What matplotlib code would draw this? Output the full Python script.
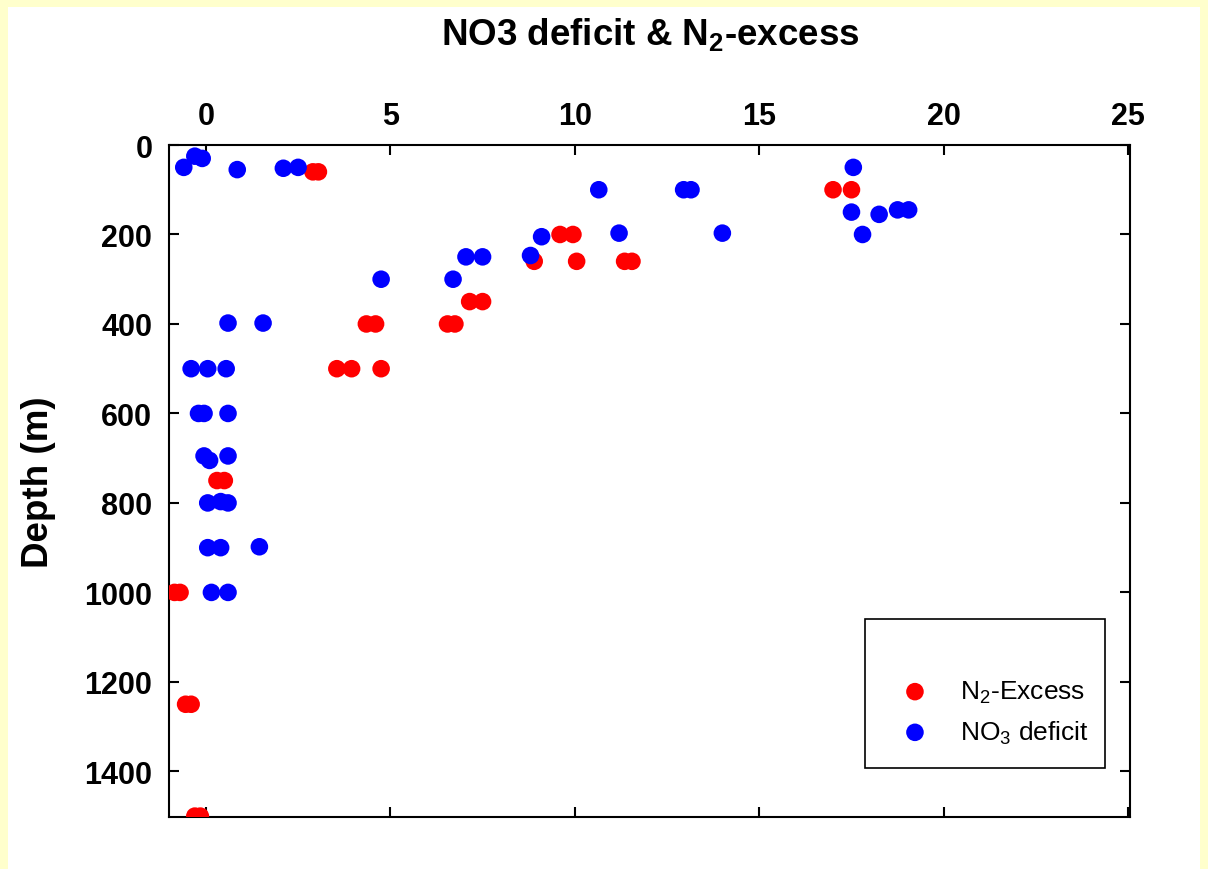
import matplotlib
matplotlib.use("Agg")
import matplotlib.pyplot as plt
from matplotlib.patches import Rectangle

plt.rcParams['font.family'] = ['Liberation Sans', 'DejaVu Sans']
plt.rcParams['mathtext.fontset'] = 'custom'
plt.rcParams['mathtext.rm'] = 'Liberation Sans'
plt.rcParams['mathtext.bf'] = 'Liberation Sans:bold'

# N2 excess (x) versus depth in metres
n2_excess = [2.9, 3.05, 17.0, 17.5, 9.6, 9.95, 8.9, 10.05, 11.35, 11.55,
             7.15, 7.5, 4.35, 4.6, 6.55, 6.75, 3.55, 3.95, 4.75,
             0.3, 0.5, -0.85, -0.7, -0.55, -0.4, -0.3, -0.15]
n2_depth = [60, 60, 100, 100, 200, 200, 260, 260, 260, 260,
            350, 350, 400, 400, 400, 400, 500, 500, 500,
            750, 750, 1000, 1000, 1250, 1250, 1500, 1500]

# NO3 deficit (x) versus depth in metres
no3_deficit = [-0.6, -0.3, -0.1, 0.85, 2.1, 2.5, 17.55,
               10.65, 12.95, 13.15, 17.5, 18.25, 18.75, 19.05,
               17.8, 9.1, 11.2, 14.0, 7.05, 7.5, 8.8, 4.75, 6.7,
               0.6, 1.55, -0.4, 0.05, 0.55, -0.2, -0.05, 0.6,
               -0.05, 0.1, 0.6, 0.05, 0.4, 0.6, 0.05, 0.4, 1.45,
               0.15, 0.6]
no3_depth = [50, 25, 30, 55, 52, 50, 50,
             100, 100, 100, 150, 155, 145, 145,
             200, 205, 197, 197, 250, 250, 247, 300, 300,
             398, 398, 500, 500, 500, 600, 600, 600,
             695, 705, 695, 800, 797, 800, 900, 900, 898,
             1000, 1000]

x_ticks = [0, 5, 10, 15, 20, 25]
y_ticks = [0, 200, 400, 600, 800, 1000, 1200, 1400]

fig = plt.figure(figsize=(12.08, 8.70), dpi=100, facecolor='#ffffcc')
# white panel inside the pale yellow frame
fig.patches.append(Rectangle((8 / 1208, 0), 1192 / 1208, 862 / 870,
                             transform=fig.transFigure, facecolor='white',
                             edgecolor='none', zorder=-10))

ax = fig.add_axes([169 / 1208, 1 - 818 / 870, 961 / 1208, 672 / 870])
ax.set_facecolor('white')

ax.scatter(n2_excess, n2_depth, s=160, color='#ff0000', edgecolors='none',
           label='N$_2$-Excess', zorder=3)
ax.scatter(no3_deficit, no3_depth, s=160, color='#0000ff', edgecolors='none',
           label='NO$_3$ deficit', zorder=4)

ax.set_xlim(-1, 25.05)
ax.set_ylim(1502, 0)
ax.set_xticks(x_ticks)
ax.set_yticks(y_ticks)
ax.xaxis.tick_top()
ax.tick_params(axis='both', direction='in', length=7, width=1.5,
               labelsize=22, top=True, bottom=True, left=True, right=True,
               labeltop=True, labelbottom=False)
ax.tick_params(axis='x', pad=10)
ax.tick_params(axis='y', pad=12)
for lbl in ax.get_xticklabels() + ax.get_yticklabels():
    lbl.set_fontweight('bold')
for sp in ax.spines.values():
    sp.set_linewidth(1.5)

ax.set_ylabel('Depth (m)', fontsize=26.5, fontweight='bold')
ax.yaxis.set_label_coords(-0.118, 0.5)
fig.text(650 / 1208, 1 - 35 / 870, r'NO3 deficit & N$_\mathbf{2}$-excess',
         ha='center', va='center', fontsize=26.5, fontweight='bold')

# legend box
ax.add_patch(Rectangle((0.724, 0.073), 0.25, 0.2216, transform=ax.transAxes,
                       facecolor='white', edgecolor='black', linewidth=1.2,
                       zorder=5))
leg = ax.legend(loc='upper left', bbox_to_anchor=(0.7625, 0.206),
                frameon=False, fontsize=19, handlelength=1.0,
                handletextpad=1.2, labelspacing=0.5, borderpad=0,
                borderaxespad=0)
leg.set_zorder(6)

fig.savefig('out.png', dpi=100, facecolor=fig.get_facecolor())
